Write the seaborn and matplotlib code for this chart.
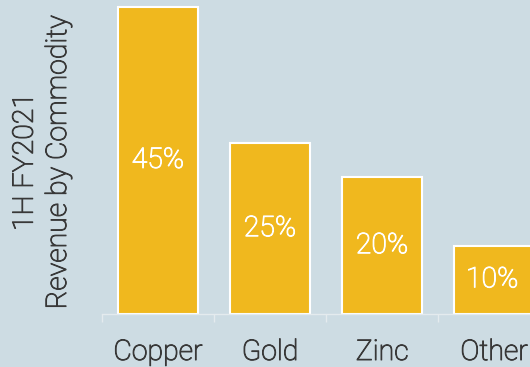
import matplotlib
matplotlib.use("Agg")
import matplotlib.pyplot as plt
import matplotlib.patheffects as pe
import seaborn as sns
import pandas as pd

categories = ["Copper", "Gold", "Zinc", "Other"]
values = [45, 25, 20, 10]
value_labels = ["45%", "25%", "20%", "10%"]
ylabel_text = "1H FY2021\nRevenue by Commodity"

BG = "#cddce3"
BAR = "#f0b81e"
TXT = "#383838"
AXC = "#e4ebee"
FS = 20.5
FW = "light"


def thick(color):
    return [pe.withStroke(linewidth=0.7, foreground=color)]


sns.set_theme(style="white")
plt.rcParams["font.family"] = ["Roboto", "DejaVu Sans"]

df = pd.DataFrame({"cat": categories, "val": values})

fig = plt.figure(figsize=(5.3, 3.67), dpi=100)
fig.patch.set_facecolor(BG)
ax = fig.add_axes([102 / 530, (367 - 314) / 367, 428 / 530, 314 / 367])
ax.set_facecolor(BG)

sns.barplot(data=df, x="cat", y="val", color=BAR, width=0.71,
            edgecolor="white", linewidth=1.5, saturation=1, ax=ax)

for c, lab in zip(ax.containers, [value_labels]):
    texts = ax.bar_label(c, labels=lab, label_type="center", color="white",
                         fontsize=FS, fontweight=FW)
    for t in texts:
        t.set_path_effects(thick("white"))

for s in ["top", "right", "left"]:
    ax.spines[s].set_visible(False)
ax.spines["bottom"].set_color(AXC)
ax.spines["bottom"].set_linewidth(1.0)

ax.set_yticks([])
ax.set_xticks([-0.5, 0.5, 1.5, 2.5, 3.5])
ax.set_xticklabels([])
ax.tick_params(axis="x", which="major", length=6, color=AXC, width=1.0, bottom=True)
ax.set_xticks(range(len(categories)), minor=True)
ax.set_xticklabels(categories, minor=True, fontsize=FS, color=TXT, fontweight=FW)
for t in ax.get_xticklabels(minor=True):
    t.set_path_effects(thick(TXT))
ax.tick_params(axis="x", which="minor", length=0, pad=18)

ax.set_xlim(-0.5, 3.32)
ax.set_ylim(0, 46.0)

ax.set_xlabel("")
ax.set_ylabel(ylabel_text, fontsize=FS, color=TXT, linespacing=1.3, fontweight=FW)
ax.yaxis.label.set_path_effects(thick(TXT))
ax.yaxis.set_label_coords(-0.07, 0.484)

fig.savefig("out.png", dpi=100, facecolor=BG)
